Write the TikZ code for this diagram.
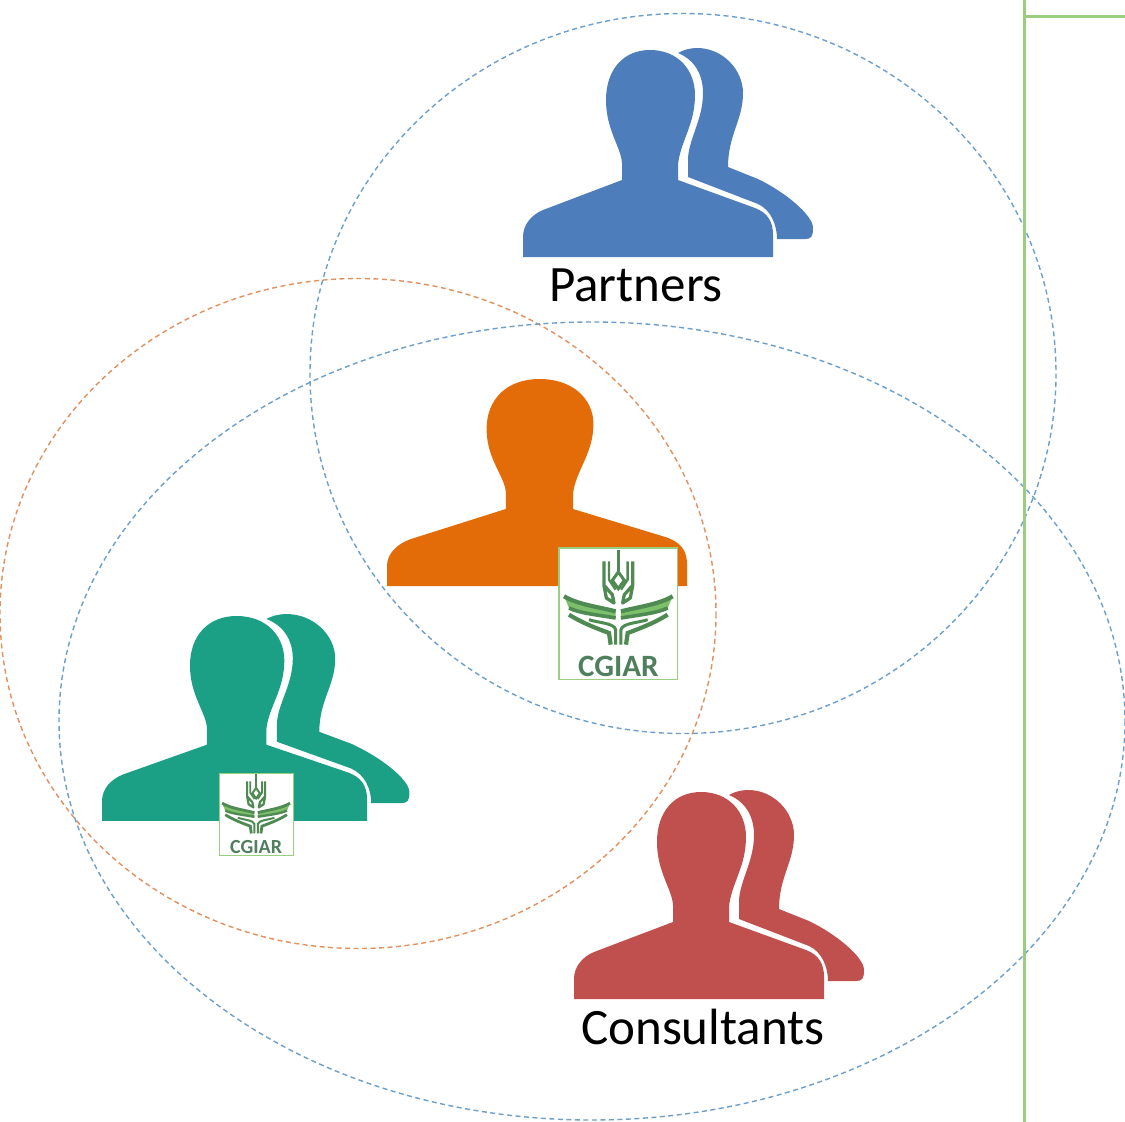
\documentclass[tikz,border=0pt]{standalone}
\usepackage{fontspec}
\setmainfont{Carlito}
\definecolor{cblue}{HTML}{4D7EBB}
\definecolor{cteal}{HTML}{1BA085}
\definecolor{cred}{HTML}{BF504E}
\definecolor{corange}{HTML}{E36C09}
\definecolor{lineblue}{HTML}{6C9FCC}
\definecolor{lineorange}{HTML}{E39060}
\definecolor{linegreen}{HTML}{98CE7D}
\definecolor{logodark}{HTML}{4F8A52}
\definecolor{logolight}{HTML}{7CC06A}
\definecolor{logotext}{HTML}{4F7F5C}
\tikzset{
  ringline/.style={dashed,dash pattern=on 5pt off 3.5pt,line width=1.4pt},
  ringblue/.style={ringline,draw=lineblue},
  ringorange/.style={ringline,draw=lineorange},
  rule/.style={draw=linegreen,line width=3pt},
  caption/.style={font=\fontsize{51}{56}\selectfont,text=black,inner sep=0pt},
}
\def\frontpath{(0,207) -- (0,187) .. controls (0,175) and (8,165) .. (20,160) -- (99,130) -- (99,113) .. controls (98,97) and (83,80) .. (83,50) .. controls (83,20) and (100,0) .. (127,0) .. controls (155,0) and (172,20) .. (172,45) .. controls (172,75) and (157,92) .. (155,115) -- (155,130) -- (232,158) .. controls (245,163) and (250,172) .. (250,185) -- (250,207) -- cycle}
\def\backpath{(155,3) .. controls (172,10) and (180,25) .. (180,43) .. controls (180,70) and (165,90) .. (165,110) -- (165,127) -- (235,154) .. controls (248,160) and (254,175) .. (254,189) -- (282,189) .. controls (288,189) and (290,187) .. (290,178) .. controls (290,165) and (262,142) .. (235,129) -- (205,117) .. controls (205,85) and (220,70) .. (220,43) .. controls (220,20) and (200,-2) .. (174,-2) .. controls (167,-2) and (160,0) .. (155,3) -- cycle}
% #1 colour, #2 x, #3 y, #4 xscale, #5 yscale
\newcommand\twopeople[5]{%
  \begin{scope}[shift={(#2,#3)},xscale=#4,yscale=#5]
    \fill[#1] \backpath;
    \fill[#1] \frontpath;
  \end{scope}}
% #1 x, #2 y, #3 scale, #4 line width, #5 font size, #6 node name
\newcommand\cgiarlogo[6]{%
  \begin{scope}[shift={(#1,#2)},scale=#3]
    \fill[white] (0,0) rectangle (355,395);
    \draw[linegreen,line width=#4*0.5pt] (0,0) rectangle (355,395);
    \draw[logodark,line width=#4*1pt] (178,5) -- (178,70);
    \draw[logodark,line width=#4*1pt] (178,72) -- (160,97) -- (178,122) -- (196,97) -- cycle;
    \foreach \sx/\ox in {1/0,-1/356}{
      \begin{scope}[shift={(\ox,0)},xscale=\sx]
        \draw[logodark,line width=#4*1.1pt,line join=round] (135,40) -- (135,112) -- (160,140) -- (165,165) -- (142,150) -- (135,112);
        \draw[logodark,line width=#4*0.8pt] (150,40) -- (150,95) -- (170,125);
        \fill[logolight] (15,145) .. controls (60,170) and (110,175) .. (170,190) -- (170,210) .. controls (110,200) and (60,195) .. (30,180) -- cycle;
        \draw[logodark,line width=#4*1.4pt] (15,145) .. controls (60,170) and (110,175) .. (170,190);
        \draw[logodark,line width=#4*1.2pt] (30,180) .. controls (60,195) and (110,200) .. (170,210);
        \draw[logodark,line width=#4*1.4pt] (30,200) .. controls (70,225) and (110,240) .. (150,255) -- (155,290);
        \draw[logodark,line width=#4*1pt] (90,215) .. controls (120,225) and (165,225) .. (170,245) -- (170,290);
      \end{scope}}
    \node[inner sep=0pt,text=logotext,anchor=base,font=\bfseries\fontsize{#5}{#5}\selectfont] (#6) at (178,385) {CGIAR};
  \end{scope}}
\begin{document}
\begin{tikzpicture}[x=1pt,y=-1pt]
\useasboundingbox (0,0) rectangle (1125,1122);
\fill[white] (0,0) rectangle (1125,1122);
% rings
\draw[ringblue] (683,373.5) ellipse [x radius=373,y radius=360];
\draw[ringorange] (358,613.5) ellipse [x radius=358,y radius=335];
\draw[ringblue] (592,721) ellipse [x radius=533,y radius=399];
% frame rules
\draw[rule] (1024,0) -- (1024,1122);
\draw[rule] (1024,16) -- (1125,16);
% people
\twopeople{cblue}{523}{50}{1}{1}
\twopeople{cteal}{102}{616}{1.06}{0.99}
\twopeople{cred}{574}{792}{1}{1}
\begin{scope}[shift={(387,379)},xscale=1.2]
  \fill[corange] \frontpath;
\end{scope}
% logos
\cgiarlogo{559}{548}{0.3333}{3}{31}{logoa}
\cgiarlogo{219}{773}{0.2085}{2}{20}{logob}
% captions
\node[caption] (partners) at (636,285) {Partners};
\node[caption] (consultants) at (703,1027) {Consultants};
\end{tikzpicture}
\end{document}
